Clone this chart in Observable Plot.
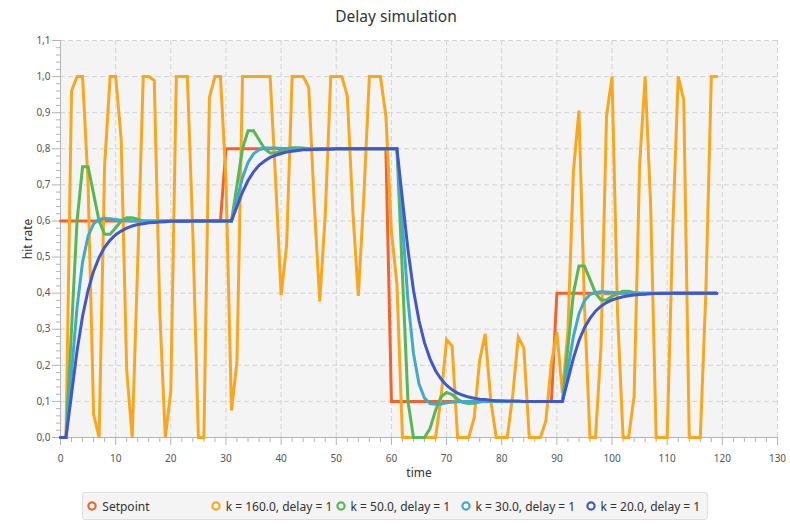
<!DOCTYPE html>
<html>
<head>
<meta charset="utf-8">
<script src="https://cdn.jsdelivr.net/npm/d3@7"></script>
<script src="https://cdn.jsdelivr.net/npm/@observablehq/plot@0.6"></script>
<style>
  body { margin: 0; background: #ffffff; font-family: "Noto Sans", sans-serif; }
  #wrap { position: relative; width: 790px; height: 526px; overflow: hidden; }
  #chart { position: absolute; left: 0; top: 0; }
  #legend { position: absolute; left: 82px; top: 492px; width: 626px; height: 28px; box-sizing: border-box;
            background: #f4f4f4; border: 1px solid #dedede; border-radius: 3px; }
  .item { position: absolute; top: 0; height: 26px; display: flex; align-items: center;
          font-size: 12px; color: #333; white-space: nowrap; }
  .item svg { margin-right: 5px; }
</style>
</head>
<body>
<div id="wrap"><div id="chart"></div><div id="legend"></div></div>
<script>
// ---- data (one sample per time step, t = 0 … 119) ----
const seriesNames = ["Setpoint", "k = 160.0, delay = 1", "k = 50.0, delay = 1", "k = 30.0, delay = 1", "k = 20.0, delay = 1"];
const seriesColors = ["#f3622d", "#fba71b", "#57b757", "#41a9c9", "#4258c9"];

const setpointTime  = [0, 29, 30, 59, 60, 89, 90, 119];
const setpointValue = [0.6, 0.6, 0.8, 0.8, 0.1, 0.1, 0.4, 0.4];

const k160 = [
  0, 0, 0.96, 1, 1, 0.704, 0.064, 0, 0.755, 1,
  1, 0.827, 0.187, 0, 0.485, 1, 1, 0.989, 0.349, 0,
  0.128, 1, 1, 1, 0.563, 0, 0, 0.942, 1, 1,
  0.715, 0.075, 0.211, 1, 1, 1, 1, 1, 1, 0.714,
  0.394, 0.532, 1, 1, 1, 0.971, 0.651, 0.377, 0.616, 1,
  1, 1, 0.947, 0.627, 0.392, 0.669, 1, 1, 1, 0.891,
  0.571, 0.425, 0, 0, 0, 0, 0, 0, 0, 0.111,
  0.271, 0.253, 0, 0, 0, 0.054, 0.214, 0.287, 0.104, 0,
  0, 0, 0.118, 0.278, 0.249, 0, 0, 0, 0.046, 0.206,
  0.292, 0.123, 0.295, 0.738, 0.906, 0.365, 0, 0, 0.251, 0.891,
  1, 0.343, 0, 0, 0.114, 0.754, 1, 0.644, 0, 0,
  0, 0.573, 1, 0.936, 0, 0, 0, 0.398, 1, 1
];
const k50 = [
  0, 0, 0.3, 0.6, 0.75, 0.75, 0.675, 0.6, 0.563, 0.563,
  0.581, 0.6, 0.609, 0.609, 0.605, 0.6, 0.598, 0.598, 0.599, 0.6,
  0.6, 0.6, 0.6, 0.6, 0.6, 0.6, 0.6, 0.6, 0.6, 0.6,
  0.6, 0.6, 0.7, 0.8, 0.85, 0.85, 0.825, 0.8, 0.788, 0.788,
  0.794, 0.8, 0.803, 0.803, 0.802, 0.8, 0.799, 0.799, 0.8, 0.8,
  0.8, 0.8, 0.8, 0.8, 0.8, 0.8, 0.8, 0.8, 0.8, 0.8,
  0.8, 0.8, 0.45, 0.1, 0, 0, 0, 0.025, 0.075, 0.113,
  0.125, 0.119, 0.106, 0.097, 0.094, 0.095, 0.098, 0.101, 0.102, 0.101,
  0.1, 0.1, 0.1, 0.1, 0.1, 0.1, 0.1, 0.1, 0.1, 0.1,
  0.1, 0.1, 0.25, 0.4, 0.475, 0.475, 0.438, 0.4, 0.381, 0.381,
  0.391, 0.4, 0.405, 0.405, 0.402, 0.4, 0.399, 0.399, 0.399, 0.4,
  0.4, 0.4, 0.4, 0.4, 0.4, 0.4, 0.4, 0.4, 0.4, 0.4
];
const k30 = [
  0, 0, 0.18, 0.36, 0.486, 0.558, 0.592, 0.605, 0.607, 0.606,
  0.604, 0.602, 0.601, 0.6, 0.6, 0.6, 0.6, 0.6, 0.6, 0.6,
  0.6, 0.6, 0.6, 0.6, 0.6, 0.6, 0.6, 0.6, 0.6, 0.6,
  0.6, 0.6, 0.66, 0.72, 0.762, 0.786, 0.797, 0.802, 0.802, 0.802,
  0.801, 0.801, 0.8, 0.8, 0.8, 0.8, 0.8, 0.8, 0.8, 0.8,
  0.8, 0.8, 0.8, 0.8, 0.8, 0.8, 0.8, 0.8, 0.8, 0.8,
  0.8, 0.8, 0.59, 0.38, 0.233, 0.149, 0.109, 0.094, 0.092, 0.093,
  0.096, 0.098, 0.099, 0.1, 0.1, 0.1, 0.1, 0.1, 0.1, 0.1,
  0.1, 0.1, 0.1, 0.1, 0.1, 0.1, 0.1, 0.1, 0.1, 0.1,
  0.1, 0.1, 0.19, 0.28, 0.343, 0.379, 0.396, 0.402, 0.404, 0.403,
  0.402, 0.401, 0.4, 0.4, 0.4, 0.4, 0.4, 0.4, 0.4, 0.4,
  0.4, 0.4, 0.4, 0.4, 0.4, 0.4, 0.4, 0.4, 0.4, 0.4
];
const k20 = [
  0, 0, 0.12, 0.24, 0.336, 0.408, 0.461, 0.499, 0.527, 0.547,
  0.562, 0.572, 0.58, 0.586, 0.59, 0.592, 0.595, 0.596, 0.597, 0.598,
  0.599, 0.599, 0.599, 0.599, 0.6, 0.6, 0.6, 0.6, 0.6, 0.6,
  0.6, 0.6, 0.64, 0.68, 0.712, 0.736, 0.754, 0.766, 0.776, 0.782,
  0.787, 0.791, 0.793, 0.795, 0.797, 0.797, 0.798, 0.799, 0.799, 0.799,
  0.8, 0.8, 0.8, 0.8, 0.8, 0.8, 0.8, 0.8, 0.8, 0.8,
  0.8, 0.8, 0.66, 0.52, 0.408, 0.324, 0.262, 0.218, 0.185, 0.162,
  0.145, 0.132, 0.123, 0.117, 0.112, 0.109, 0.106, 0.105, 0.103, 0.102,
  0.102, 0.101, 0.101, 0.101, 0.1, 0.1, 0.1, 0.1, 0.1, 0.1,
  0.1, 0.1, 0.16, 0.22, 0.268, 0.304, 0.33, 0.35, 0.364, 0.374,
  0.381, 0.386, 0.39, 0.393, 0.395, 0.396, 0.397, 0.398, 0.399, 0.399,
  0.399, 0.4, 0.4, 0.4, 0.4, 0.4, 0.4, 0.4, 0.4, 0.4
];

const xTicks = [0, 10, 20, 30, 40, 50, 60, 70, 80, 90, 100, 110, 120, 130];
const yTicks = [0, 0.1, 0.2, 0.3, 0.4, 0.5, 0.6, 0.7, 0.8, 0.9, 1.0, 1.1];
const xMinor = d3.range(0, 131, 2).filter(d => d % 10 !== 0);
const yMinor = d3.range(0, 111, 2).filter(d => d % 10 !== 0).map(d => d / 100);

// ---- tidy tables ----
const setpointRows = setpointTime.map((t, i) => ({t, v: setpointValue[i], s: seriesNames[0]}));
const toRows = (arr, name) => arr.map((v, t) => ({t, v, s: name}));
const rows = [
  setpointRows,
  toRows(k160, seriesNames[1]),
  toRows(k50, seriesNames[2]),
  toRows(k30, seriesNames[3]),
  toRows(k20, seriesNames[4])
];

const fmtY = d => d.toFixed(1).replace(".", ",");
const axisGray = "#b4b4b4";
const labelGray = "#555555";

const chart = Plot.plot({
  width: 790,
  height: 482,
  marginLeft: 60,
  marginRight: 13,
  marginTop: 40,
  marginBottom: 45,
  style: {fontFamily: "'Noto Sans', sans-serif", fontSize: "10px", background: "transparent", overflow: "visible"},
  x: {domain: [0, 130], label: null},
  y: {domain: [0, 1.1], label: null},
  color: {domain: seriesNames, range: seriesColors},
  marks: [
    Plot.frame({fill: "#f4f4f4", stroke: "none"}),
    Plot.gridX(xTicks, {stroke: "#d4d4d4", strokeOpacity: 1, strokeDasharray: "5,3"}),
    Plot.gridY(yTicks, {stroke: "#d4d4d4", strokeOpacity: 1, strokeDasharray: "5,3"}),
    Plot.axisX(xTicks, {tickSize: 8, tickPadding: 9, stroke: axisGray, color: labelGray, fill: labelGray, tickFormat: d => String(d), fontSize: 10}),
    Plot.axisX(xMinor, {tickSize: 5, stroke: axisGray, tickFormat: () => ""}),
    Plot.axisY(yTicks, {tickSize: 8, tickPadding: 2, stroke: axisGray, color: labelGray, fill: labelGray, tickFormat: fmtY, fontSize: 10}),
    Plot.axisY(yMinor, {tickSize: 4, stroke: axisGray, tickFormat: () => ""}),
    Plot.ruleX([0], {stroke: axisGray}),
    Plot.ruleY([0], {stroke: axisGray}),
    ...rows.map(r => Plot.line(r, {x: "t", y: "v", stroke: "s", strokeWidth: 3, strokeLinejoin: "miter", strokeMiterlimit: 4})),
    Plot.text(["Delay simulation"], {frameAnchor: "top", lineAnchor: "middle", dx: -23, dy: -23, fontSize: 15.5, fill: "#333"}),
    Plot.text(["hit rate"], {frameAnchor: "left", textAnchor: "middle", lineAnchor: "middle", dx: -32, rotate: -90, fontSize: 12, fill: "#333"}),
    Plot.text(["time"], {frameAnchor: "bottom", lineAnchor: "middle", dy: 36, fontSize: 12, fill: "#333"})
  ]
});
document.getElementById("chart").appendChild(chart);

// ---- legend below the chart ----
const legend = document.getElementById("legend");
const legendX = [92.3, 215.7, 340.5, 465.5, 590.5];
seriesNames.forEach((name, i) => {
  const item = document.createElement("div");
  item.className = "item";
  item.style.left = (legendX[i] - 5 - 83) + "px";
  item.innerHTML = `<svg width="10" height="10"><circle cx="5" cy="5" r="3.6" fill="#fff" stroke="${seriesColors[i]}" stroke-width="2.2"/></svg><span>${name}</span>`;
  legend.appendChild(item);
});
</script>
</body>
</html>
